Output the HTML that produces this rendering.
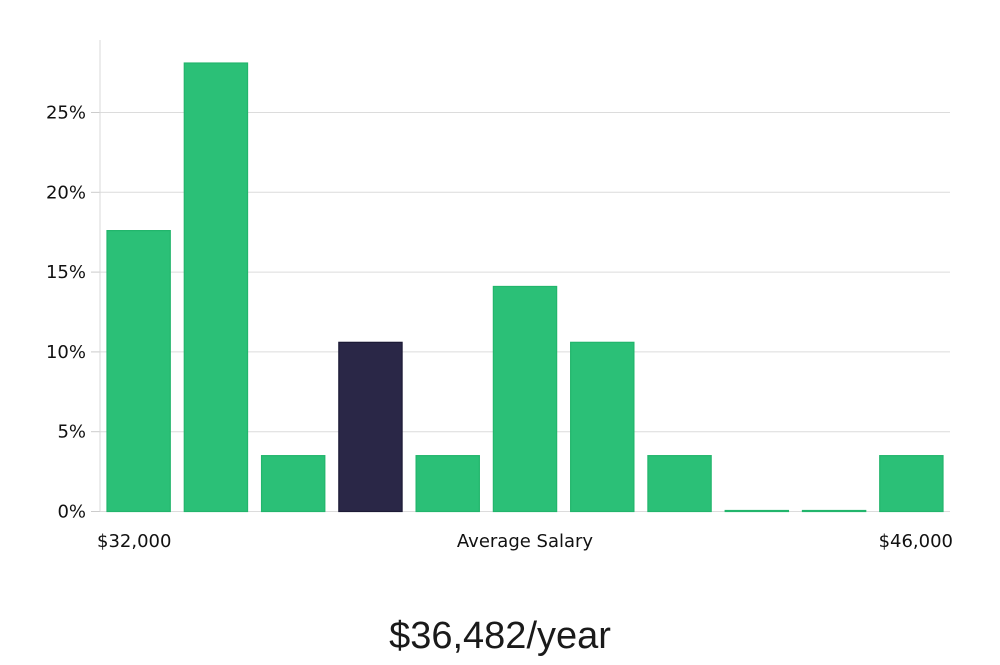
<!DOCTYPE html>
<html><head><meta charset="utf-8"><style>
body{margin:0;background:#fff;width:1000px;height:660px;overflow:hidden}
svg text{font-family:"DejaVu Sans","Liberation Sans",sans-serif;fill:#111}
</style></head><body>
<svg id="chart" width="1000" height="660" xmlns="http://www.w3.org/2000/svg">
<g id="grid"></g><g id="bars"></g><g id="axes"></g>
<text x="97" y="547" font-size="18">$32,000</text>
<text x="525" y="547" font-size="18" text-anchor="middle">Average Salary</text>
<text x="953" y="547" font-size="18" text-anchor="end">$46,000</text>
<text x="500" y="648" font-size="38" text-anchor="middle" style="font-family:'Liberation Sans',sans-serif;font-weight:300;fill:#1a1a1a">$36,482/year</text>
</svg>
<script>
const values=[17.6,28.1,3.5,10.6,3.5,14.1,10.6,3.5,0,0,3.5];
const highlight=[false,false,false,true,false,false,false,false,false,false,false];
const ticks=[0,5,10,15,20,25];
const tickLabels=["0%","5%","10%","15%","20%","25%"];
const ns="http://www.w3.org/2000/svg";
const x0=100,x1=950,y0=511.5,pxPer=15.96;
const y=v=>y0-v*pxPer;
const slot=(x1-x0)/values.length;
const grid=document.getElementById('grid'),bars=document.getElementById('bars'),axes=document.getElementById('axes');
function mk(tag,attrs,parent){const e=document.createElementNS(ns,tag);for(const k in attrs)e.setAttribute(k,attrs[k]);parent.appendChild(e);return e;}
ticks.forEach((t,i)=>{
  const l=mk('line',{x1:x0,x2:x1,y1:y(t),y2:y(t),stroke:'#dcdcdc','stroke-width':1},grid);
  
  
  const tk=mk('line',{x1:x0-9,x2:x0,y1:y(t),y2:y(t),stroke:'#ccc','stroke-width':1},axes);
  
  
  const tx=mk('text',{x:x0-14,y:y(t)+6,'font-size':18,'text-anchor':'end'},axes);
  tx.textContent=tickLabels[i];
  
  
});
const ax=mk('line',{x1:x0,x2:x0,y1:40,y2:y0,stroke:'#d8d8d8','stroke-width':1},axes);


values.forEach((v,i)=>{
  const bx=x0+i*slot+7,w=slot-14;
  const h=Math.max(v*pxPer,1);
  const r=mk('rect',{x:bx,y:y0-h,width:w,height:h,fill:highlight[i]?'#2a2747':'#2bc077',stroke:highlight[i]?'#1c1a36':'#22b56c','stroke-width':1.2},bars);
  
  
});
</script>
</body></html>
